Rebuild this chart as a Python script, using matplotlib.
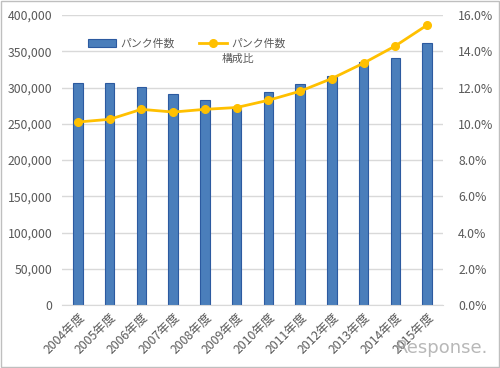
import matplotlib.pyplot as plt
from matplotlib.ticker import FuncFormatter, PercentFormatter

plt.rcParams['font.family'] = ['Noto Sans CJK JP', 'DejaVu Sans']

years = ['2004年度', '2005年度', '2006年度', '2007年度', '2008年度', '2009年度',
         '2010年度', '2011年度', '2012年度', '2013年度', '2014年度', '2015年度']
punk_count = [306500, 307000, 301000, 291500, 283500, 273000,
              293500, 304500, 316000, 335000, 341000, 362000]
punk_ratio = [10.1, 10.25, 10.8, 10.65, 10.8, 10.9,
              11.3, 11.8, 12.5, 13.35, 14.3, 15.45]

grey_txt = '#595959'
grid_col = '#d9d9d9'

fig = plt.figure(figsize=(5.0, 3.68), dpi=100)
ax = fig.add_axes([0.124, 0.171, 0.762, 0.788])
ax2 = ax.twinx()

x = range(len(years))
ax.bar(x, punk_count, width=0.3, color='#4a7ebb', edgecolor='#2c5aa0',
       linewidth=0.8, label='パンク件数', zorder=2)
ax2.plot(x, punk_ratio, color='#ffc000', linewidth=2.0, marker='o',
         markersize=5.5, label='パンク件数', zorder=3)

ax.set_ylim(0, 400000)
ax.set_yticks(range(0, 400001, 50000))
ax.yaxis.set_major_formatter(FuncFormatter(lambda v, p: f'{int(v):,}'))
ax2.set_ylim(0, 16)
ax2.set_yticks(range(0, 17, 2))
ax2.yaxis.set_major_formatter(PercentFormatter(decimals=1))
ax.set_xlim(-0.5, len(years) - 0.5)
ax.set_xticks(list(x))
ax.set_xticklabels(years, rotation=45, ha='right', rotation_mode='anchor')

ax.grid(axis='y', color=grid_col, linewidth=1, zorder=0)
ax.set_axisbelow(True)
for a in (ax, ax2):
    for s in a.spines.values():
        s.set_visible(False)
    a.tick_params(length=0, labelsize=8.8, colors=grey_txt)
ax.spines['bottom'].set_visible(True)
ax.spines['bottom'].set_color(grid_col)
ax.tick_params(axis='y', pad=7)
ax2.tick_params(axis='y', pad=11)
ax.tick_params(axis='x', pad=4)

h1, l1 = ax.get_legend_handles_labels()
h2, l2 = ax2.get_legend_handles_labels()
leg = ax2.legend(h1 + h2, l1 + l2, loc='upper left', bbox_to_anchor=(0.068, 0.92),
                 ncol=2, frameon=False, fontsize=7.8, columnspacing=2.3,
                 handlelength=2.6, handletextpad=0.35, borderpad=0, borderaxespad=0,
                 labelcolor=grey_txt)
ax2.text(0.42, 0.85, '構成比', transform=ax2.transAxes, ha='left', va='center',
         fontsize=7.8, color=grey_txt)

fig.patches.append(plt.Rectangle((0.002, 0.003), 0.995, 0.994, transform=fig.transFigure,
                                 fill=False, edgecolor='#bfbfbf', linewidth=1))
fig.text(0.975, 0.03, 'Response.', ha='right', va='bottom', fontsize=13,
         color='#9a9a9a', alpha=0.7, family='DejaVu Sans')

fig.savefig('out.png', dpi=100)
